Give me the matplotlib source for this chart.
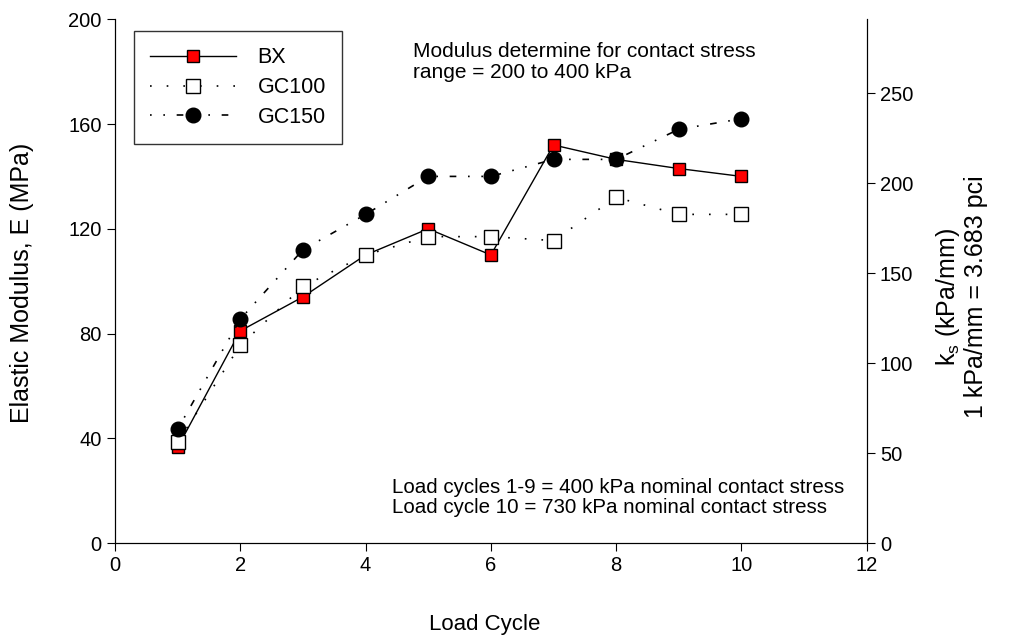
import numpy as np
import matplotlib.pyplot as plt

plt.rcParams['font.family'] = ['Liberation Sans', 'DejaVu Sans']

cycles = np.arange(1, 11)
bx = [36.5, 81, 94, 110, 120, 110, 152, 146.5, 143, 140]
gc100 = [38.5, 75.5, 98, 110, 117, 117, 115.5, 132, 125.5, 125.5]
gc150 = [43.5, 85.5, 112, 125.5, 140, 140, 146.5, 146.5, 158, 162]

fig = plt.figure(figsize=(10.09, 6.43), dpi=100)
ax = fig.add_axes([0.114, 0.1555, 0.745, 0.8145])

ax.plot(cycles, bx, color='black', lw=1, marker='s', ms=8.5,
        mfc='red', mec='black', mew=1, label='BX', zorder=3)
ax.plot(cycles, gc100, color='black', lw=1.2, ls=(0, (1, 9)), marker='s', ms=10,
        mfc='white', mec='black', mew=1, label='GC100', zorder=4)
ax.plot(cycles, gc150, color='black', lw=1.2, ls=(0, (1, 7, 1, 7, 4, 7)), marker='o', ms=10.5,
        mfc='black', mec='black', label='GC150', zorder=5)

ax.set_xlim(0, 12)
ax.set_ylim(0, 200)
ax.set_xticks(range(0, 13, 2))
ax.set_yticks(range(0, 201, 40))
ax.tick_params(labelsize=14.5, direction='out', length=6)
ax.spines['top'].set_visible(False)
ax.set_xlabel('Load Cycle', fontsize=16)
ax.xaxis.set_label_coords(0.492, -0.135)
ax.set_ylabel('Elastic Modulus, E (MPa)', fontsize=18)
ax.yaxis.set_label_coords(-0.108, 0.496)

ax2 = ax.twinx()
ax2.set_ylim(0, 291)
ax2.set_yticks(range(0, 251, 50))
ax2.tick_params(labelsize=14.5, direction='out', length=6)
ax2.spines['top'].set_visible(False)
ax2.set_ylabel('k$_\\mathregular{s}$ (kPa/mm)\n1 kPa/mm = 3.683 pci', fontsize=18,
               linespacing=1.1)
ax2.yaxis.set_label_coords(1.09, 0.47)

leg = ax.legend(loc='upper left', bbox_to_anchor=(0.025, 0.977), borderaxespad=0,
                fontsize=15.5, frameon=True, fancybox=False, edgecolor='black',
                handlelength=4.0, handletextpad=1.0, borderpad=0.75, labelspacing=0.4)
leg.get_frame().set_linewidth(1)

ax.text(0.396, 0.918, 'Modulus determine for contact stress\nrange = 200 to 400 kPa',
        transform=ax.transAxes, fontsize=15, va='center', ha='left', linespacing=1.1)
ax.text(0.368, 0.087, 'Load cycles 1-9 = 400 kPa nominal contact stress\nLoad cycle 10 = 730 kPa nominal contact stress',
        transform=ax.transAxes, fontsize=14.8, va='center', ha='left', linespacing=1.1)

fig.savefig('out.png', dpi=100)
